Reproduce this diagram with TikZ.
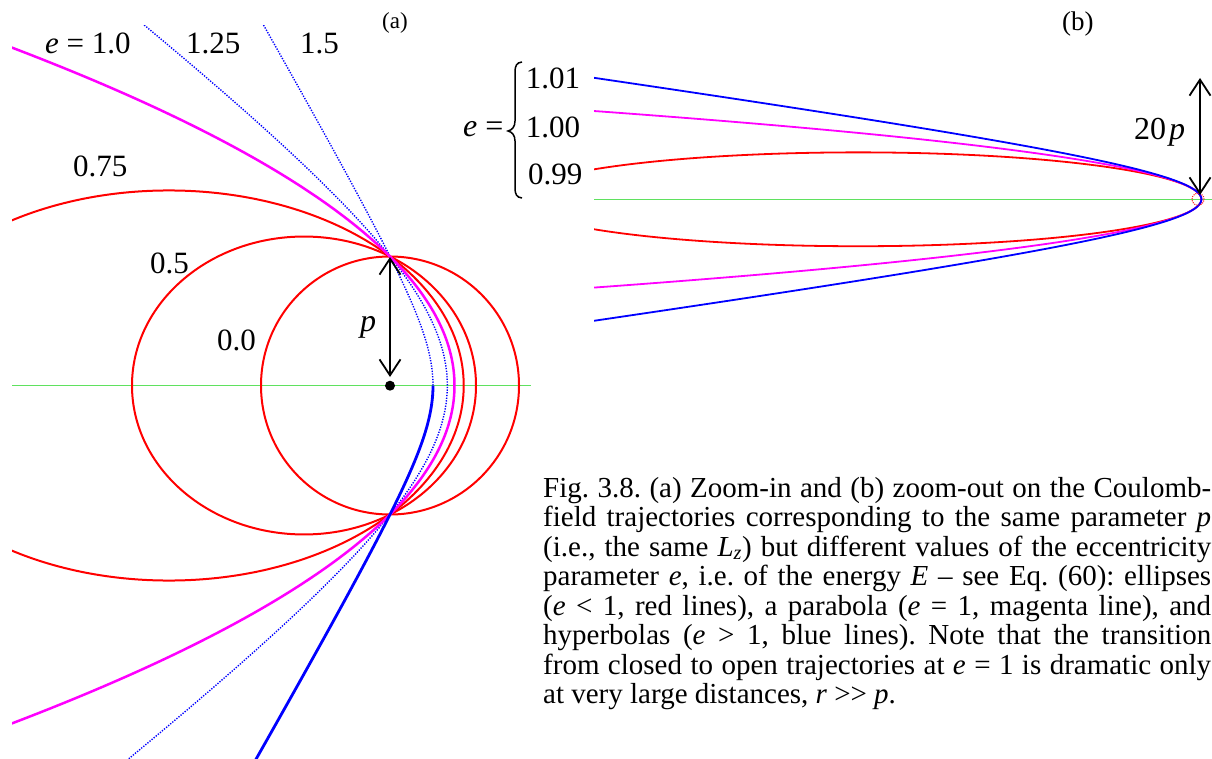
\documentclass[tikz,border=0pt]{standalone}
\usepackage{fontspec}
\setmainfont{Liberation Serif}
\usetikzlibrary{arrows.meta}
\definecolor{axisgreen}{RGB}{95,225,95}
\definecolor{cred}{RGB}{255,0,0}
\definecolor{cmag}{RGB}{255,0,255}
\definecolor{cblue}{RGB}{0,0,255}
\begin{document}
\begin{tikzpicture}[x=1pt,y=-1pt,
  lbl/.style={inner sep=0pt, anchor=base west, font=\fontsize{31}{31}\selectfont},
  axisline/.style={axisgreen, line width=1pt},
  redc/.style={cred, line width=2pt},
  magc/.style={cmag, line width=2.5pt},
  bluec/.style={cblue, line width=2.8pt},
  dotc/.style={cblue, line width=1.4pt, dash pattern=on 1.3pt off 1.4pt},
  dimarrow/.style={black, line width=1.8pt, {Straight Barb[length=16pt,width=21pt]}-{Straight Barb[length=16pt,width=21pt]}},
]
\useasboundingbox (0,0) rectangle (1212,759);
\fill[white] (0,0) rectangle (1212,759);

% ---------- panel (a) ----------
\coordinate (FA) at (390,385.5);
\begin{scope}
  \clip (12,26) rectangle (531,760);
  \draw[axisline] (12,385.5) -- (531,385.5);
  \draw[dotc] plot[domain=-1.65:1.65, samples=160, variable=\t] ({676.67-229.33*cosh(\t)},{385.5-172*sinh(\t)});
  \draw[dotc] plot[domain=0:2.45, samples=130, variable=\t] ({476-43*cosh(\t)},{385.5-74.48*sinh(\t)});
  \draw[redc] (FA) circle[radius=129pt];
  \draw[redc] (304,385.5) ellipse[x radius=172pt, y radius=148.96pt];
  \draw[redc] (168.86,385.5) ellipse[x radius=294.86pt, y radius=195.04pt];
  \draw[magc] plot[domain=-3.1:3.1, samples=220, variable=\t] ({390+64.5*(1-\t*\t)},{385.5-129*\t});
  \draw[bluec] plot[domain=-2.45:0, samples=130, variable=\t] ({476-43*cosh(\t)},{385.5-74.48*sinh(\t)});
\end{scope}
\node[circle, fill=black, inner sep=0pt, minimum size=10pt] (dotA) at (390,385.7) {};
\coordinate (ptop) at (390,257);
\coordinate (pbot) at (390,377);
\draw[dimarrow] (ptop) -- (pbot);

\node[lbl, font=\fontsize{23}{23}\selectfont] (labA) at (382,29) {(a)};
\node[lbl] (lab10) at (45,54) {\textit{e} = 1.0};
\node[lbl] (lab125) at (186,54) {1.25};
\node[lbl] (lab15) at (300,54) {1.5};
\node[lbl] (lab075) at (73,177) {0.75};
\node[lbl] (lab05) at (150,273) {0.5};
\node[lbl] (lab00) at (217,350) {0.0};
\node[lbl, font=\fontsize{32}{32}\selectfont] (labp) at (360,331) {\textit{p}};

% ---------- panel (b) ----------
\coordinate (FB) at (1198,199.3);
\begin{scope}
  \clip (594,0) rectangle (1212,400);
  \draw[axisline] (594,199.3) -- (1212,199.3);
  \draw[redc, line width=1.8pt] (858.2,199.3) ellipse[x radius=343.2pt, y radius=46.93pt];
  \draw[magc, line width=1.8pt] plot[domain=-14:14, samples=161, variable=\t] ({1198+3.415*(1-\t*\t)},{199.3-6.62*\t});
  \draw[bluec, line width=1.8pt] plot[domain=-1.75:1.75, samples=201, variable=\t] ({1541.2-339.8*cosh(\t)},{199.3-46.69*sinh(\t)});
  \draw[cred, line width=1pt, dash pattern=on 1pt off 1.2pt] (FB) circle[radius=6pt];
\end{scope}
\coordinate (btop) at (1200,78);
\coordinate (bbot) at (1200,195);
\draw[dimarrow] (btop) -- (bbot);
\node[lbl, font=\fontsize{32}{32}\selectfont] (lab20p) at (1134,140) {20\kern3pt\textit{p}};
\node[lbl, font=\fontsize{27}{27}\selectfont] (labB) at (1062,31) {(b)};
\node[lbl, font=\fontsize{32}{32}\selectfont] (labe) at (463,137) {\textit{e} =};
\draw[black, line width=1.5pt] (522,62) .. controls (516.5,62.5) and (515,66) .. (515,72) -- (515,121) .. controls (515,127) and (512,130) .. (508,131) .. controls (512,132) and (515,135) .. (515,141) -- (515,188) .. controls (515,194) and (516.5,197.5) .. (522,198);
\node[lbl] (b101) at (525.7,89) {1.01};
\node[lbl] (b100) at (525.7,138) {1.00};
\node[lbl] (b099) at (528,185) {0.99};

% ---------- caption ----------
\node[inner sep=0pt, anchor=base west] (cap) at (543,497) {\parbox[t]{668pt}{\fontsize{29}{29.5}\selectfont\frenchspacing\hyphenpenalty=10000 \exhyphenpenalty=10000 \tolerance=10000
Fig. 3.8. (a) Zoom-in and (b) zoom-out on the Coulomb-\linebreak
field trajectories corresponding to the same parameter \textit{p}\linebreak
(i.e., the same \textit{L}\textsubscript{\textit{z}}) but different values of the eccentricity\linebreak
parameter \textit{e}, i.e. of the energy \textit{E} -- see Eq. (60): ellipses\linebreak
(\textit{e} < 1, red lines), a parabola (\textit{e} = 1, magenta line), and\linebreak
hyperbolas (\textit{e} > 1, blue lines). Note that the transition\linebreak
from closed to open trajectories at \textit{e} = 1 is dramatic only\linebreak
at very large distances, \textit{r} >{}> \textit{p}.}};
\end{tikzpicture}
\end{document}
